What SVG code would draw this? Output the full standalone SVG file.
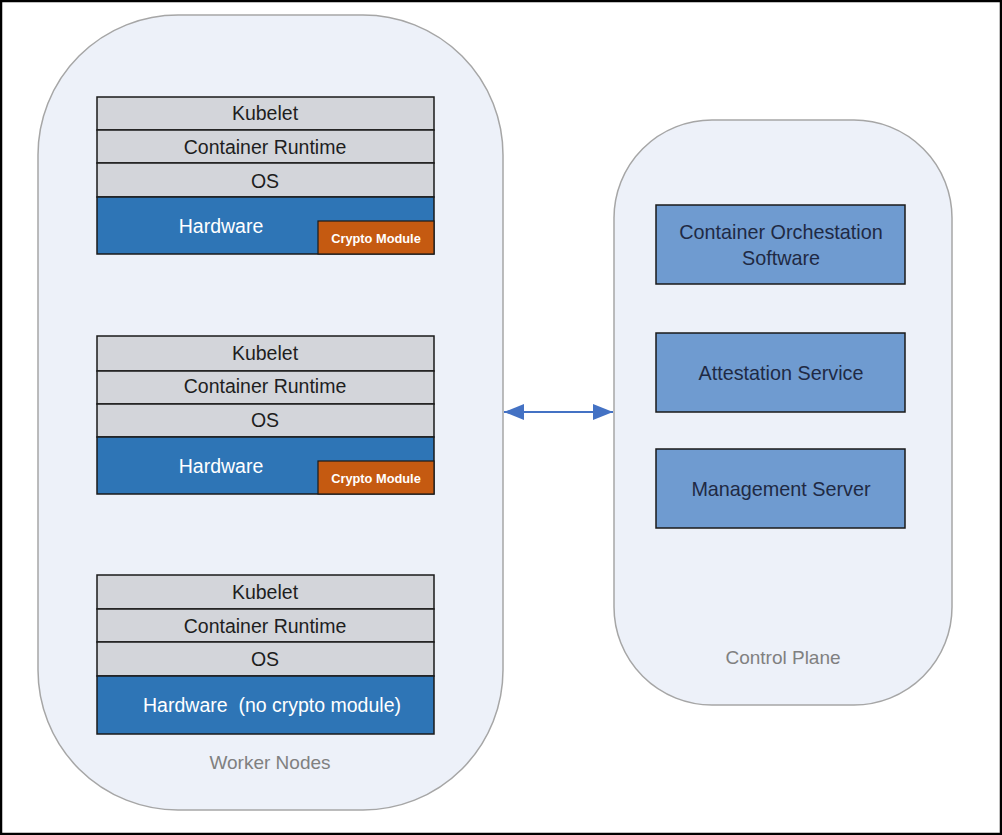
<svg xmlns="http://www.w3.org/2000/svg" width="1002" height="835" viewBox="0 0 1002 835">
<defs>
<style>
.cont{fill:#edf1f9;stroke:#a6a6a6;stroke-width:1.5}
.layer{fill:#d3d5da;stroke:#1a1a1a;stroke-width:1.5}
.hw{fill:#2e75b6;stroke:#1a1a1a;stroke-width:1.5}
.cm{fill:#c55a11;stroke:#1a1a1a;stroke-width:1.2}
.svc{fill:#6f9bd0;stroke:#1a1a1a;stroke-width:1.5}
text{font-family:"Liberation Sans",Arial,sans-serif;text-anchor:middle}
.t{font-size:19.5px;fill:#1e1e1e}
.tw{font-size:19.5px;fill:#ffffff}
.tc{font-size:12.8px;fill:#ffffff;font-weight:bold}
.ts{font-size:19.8px;fill:#1f2a44}
.lbl{font-size:19px;fill:#808080}
</style>
<marker id="ah" viewBox="0 0 20 16" refX="20" refY="8" markerWidth="20" markerHeight="16" markerUnits="userSpaceOnUse" orient="auto-start-reverse">
<path d="M0,0 L20,8 L0,16 z" fill="#4472c4"/>
</marker>
</defs>
<rect x="0" y="0" width="1002" height="835" fill="#ffffff"/>
<rect x="1" y="1" width="1000" height="833" fill="none" stroke="#000" stroke-width="2.5"/>

<g id="worker-nodes">
<rect class="cont" x="38" y="15" width="465" height="795" rx="140" ry="140"/>
<text class="lbl" x="270" y="769">Worker Nodes</text>
</g>

<g id="control-plane">
<rect class="cont" x="614" y="120" width="338" height="585" rx="98" ry="98"/>
<text class="lbl" x="783" y="664">Control Plane</text>
</g>

<g id="worker1">
<rect class="layer" x="97" y="97" width="337" height="33"/>
<rect class="layer" x="97" y="130" width="337" height="33"/>
<rect class="layer" x="97" y="163" width="337" height="34"/>
<rect class="hw" x="97" y="197" width="337" height="57"/>
<rect class="cm" x="318" y="221" width="116" height="33"/>
<text class="t" x="265" y="120">Kubelet</text>
<text class="t" x="265" y="154">Container Runtime</text>
<text class="t" x="265" y="188">OS</text>
<text class="tw" x="221" y="233">Hardware</text>
<text class="tc" x="376" y="243">Crypto Module</text>
</g>

<g id="worker2">
<rect class="layer" x="97" y="336" width="337" height="35"/>
<rect class="layer" x="97" y="371" width="337" height="33"/>
<rect class="layer" x="97" y="404" width="337" height="33"/>
<rect class="hw" x="97" y="437" width="337" height="57"/>
<rect class="cm" x="318" y="461" width="116" height="33"/>
<text class="t" x="265" y="360">Kubelet</text>
<text class="t" x="265" y="393">Container Runtime</text>
<text class="t" x="265" y="427">OS</text>
<text class="tw" x="221" y="473">Hardware</text>
<text class="tc" x="376" y="483">Crypto Module</text>
</g>

<g id="worker3">
<rect class="layer" x="97" y="575" width="337" height="34"/>
<rect class="layer" x="97" y="609" width="337" height="33"/>
<rect class="layer" x="97" y="642" width="337" height="34"/>
<rect class="hw" x="97" y="676" width="337" height="58"/>
<text class="t" x="265" y="599">Kubelet</text>
<text class="t" x="265" y="633">Container Runtime</text>
<text class="t" x="265" y="666">OS</text>
<text class="tw" x="272" y="712" xml:space="preserve">Hardware  (no crypto module)</text>
</g>

<g id="orchestration">
<rect class="svc" x="656" y="205" width="249" height="79"/>
<text class="ts" x="781" y="239">Container Orchestation</text>
<text class="ts" x="781" y="265">Software</text>
</g>

<g id="attestation">
<rect class="svc" x="656" y="333" width="249" height="79"/>
<text class="ts" x="781" y="380">Attestation Service</text>
</g>

<g id="management">
<rect class="svc" x="656" y="449" width="249" height="79"/>
<text class="ts" x="781" y="496">Management Server</text>
</g>

<g id="connectors">
<line x1="504" y1="412" x2="613" y2="412" stroke="#4472c4" stroke-width="2" marker-start="url(#ah)" marker-end="url(#ah)"/>
</g>
</svg>
